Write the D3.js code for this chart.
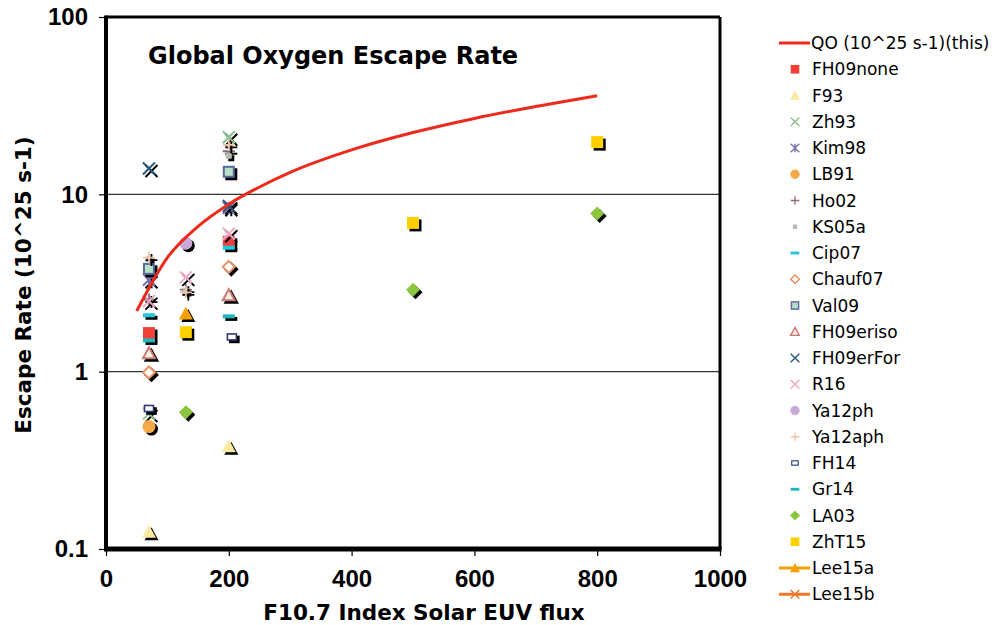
<!DOCTYPE html>
<html><head><meta charset="utf-8">
<script src="https://cdn.jsdelivr.net/npm/d3@7"></script>
<style>
body{margin:0;background:#fff;}
svg{display:block;font-family:"DejaVu Sans",Verdana,sans-serif;}
</style></head>
<body><svg id="c" width="1008" height="625"></svg>
<script>
// ---- data ----
const xTicks = [0, 200, 400, 600, 800, 1000];
const yTicks = [0.1, 1, 10, 100];
const yTickLabels = ["0.1", "1", "10", "100"];
const qoX = [50, 100, 150, 200, 250, 300, 400, 500, 600, 700, 800];
const qoY = [2.2, 4.4, 6.6, 8.8, 11, 13.3, 17.8, 22.3, 26.8, 31.3, 36];
const seriesNames = ["FH09none","F93","Zh93","Kim98","LB91","Ho02","KS05a","Cip07","Chauf07","Val09","FH09eriso","FH09erFor","R16","Ya12ph","Ya12aph","FH14","Gr14","LA03","ZhT15","Lee15a","Lee15b"];
const seriesX = [
  [70, 200],        // FH09none
  [70, 200],        // F93
  [70, 200],        // Zh93
  [70, 200],        // Kim98
  [70],             // LB91
  [70, 130, 200],   // Ho02
  [70, 130, 200],   // KS05a
  [70, 200],        // Cip07
  [70, 200],        // Chauf07
  [70, 200],        // Val09
  [70, 200],        // FH09eriso
  [70, 200],        // FH09erFor
  [70, 130, 200],   // R16
  [130],            // Ya12ph
  [70, 130, 200],   // Ya12aph
  [70, 205],        // FH14
  [70, 200],        // Gr14
  [130, 500, 800],  // LA03
  [130, 500, 800],  // ZhT15
  [130],            // Lee15a
  []                // Lee15b
];
const seriesY = [
  [1.65, 5.4],
  [0.125, 0.38],
  [0.58, 21],
  [3.3, 8.4],
  [0.49],
  [2.55, 2.9, 17.5],
  [4.3, 2.85, 16.5],
  [2.08, 5.0],
  [0.99, 3.9],
  [3.8, 13.4],
  [1.27, 2.7],
  [14, 8.6],
  [2.5, 3.4, 6.0],
  [5.3],
  [4.4, 2.8, 19],
  [0.62, 1.57],
  [1.5, 2.05],
  [0.59, 2.9, 7.8],
  [1.67, 6.9, 19.7],
  [2.13],
  []
];
const seriesShape = ["square","triangle","cross","asterisk","circle","plus","smallsq","dash","diamondOpen","squareBorder","triOpen","cross","cross","circle","plus","rectSmall","dash","diamond","square","triangle","cross"];
const seriesColor = ["#f0403a","#f8eaa0","#8cc08c","#7a70b0","#f5aa48","#8a6878","#b4bab4","#20c8dc","#e89060","#b8e0c4","#c87878","#2a5878","#f0a8c8","#c8aad8","#f0c4a8","#303878","#20b4bc","#8cc63f","#ffd000","#f5a000","#f07828"];
const seriesLine = ["","","","","","","","","","","","","","","","","","","","#f5a000","#f07828"];

// ---- layout ----
const svg = d3.select("#c");
const x = d3.scaleLinear().domain([0, 1000]).range([106, 720]);
const y = d3.scaleLog().domain([0.1, 100]).range([549, 17]);

// gridlines
svg.append("g").selectAll("line").data([1, 10]).join("line")
  .attr("x1", x(0)).attr("x2", x(1000))
  .attr("y1", d => y(d)).attr("y2", d => y(d))
  .attr("stroke", "#333").attr("stroke-width", 1.2);

// axes
const xAxis = d3.axisBottom(x).tickValues(xTicks).tickSize(7).tickFormat(d3.format("d"));
const gx = svg.append("g").attr("transform", `translate(0,${y(0.1)})`).call(xAxis);
gx.select(".domain").remove();
gx.selectAll("line").attr("stroke", "#000").attr("stroke-width", 1.2);
gx.selectAll("text").attr("font-size", 24).attr("font-weight", "bold").attr("fill", "#000").attr("y", 16).attr("dy", "0.9em");

const yAxis = d3.axisLeft(y).tickValues(yTicks).tickSize(7).tickFormat((d, i) => yTickLabels[i]);
const gy = svg.append("g").attr("transform", `translate(${x(0)},0)`).call(yAxis);
gy.select(".domain").remove();
gy.selectAll("line").attr("stroke", "#000").attr("stroke-width", 1.2);
gy.selectAll("text").attr("font-size", 24).attr("font-weight", "bold").attr("fill", "#000").attr("x", -18);

// frame
svg.append("line").attr("x1", x(0)).attr("x2", x(1000)).attr("y1", y(100)).attr("y2", y(100)).attr("stroke", "#000").attr("stroke-width", 3);
svg.append("line").attr("x1", x(1000)).attr("x2", x(1000)).attr("y1", y(100)).attr("y2", y(0.1)).attr("stroke", "#000").attr("stroke-width", 3);
svg.append("line").attr("x1", x(0)).attr("x2", x(0)).attr("y1", y(100) - 1.5).attr("y2", y(0.1) + 2).attr("stroke", "#000").attr("stroke-width", 4);
svg.append("line").attr("x1", x(0) - 2).attr("x2", x(1000) + 1.5).attr("y1", y(0.1)).attr("y2", y(0.1)).attr("stroke", "#000").attr("stroke-width", 5);

// title and labels
svg.append("text").attr("x", 148).attr("y", 64).attr("font-size", 24).attr("font-weight", "bold").text("Global Oxygen Escape Rate");
svg.append("text").attr("transform", "translate(31,285) rotate(-90)").attr("text-anchor", "middle")
  .attr("font-size", 21.5).attr("font-weight", "bold").text("Escape Rate (10^25 s-1)");
svg.append("text").attr("x", 424).attr("y", 620).attr("text-anchor", "middle")
  .attr("font-size", 21.5).attr("font-weight", "bold").text("F10.7 Index Solar EUV flux");

// marker drawing
function drawMarker(g, shape, color, shadow) {
  const c = shadow ? "#000" : color;
  const s = 6;
  switch (shape) {
    case "square":
      g.append("rect").attr("x", -s).attr("y", -s).attr("width", 2*s).attr("height", 2*s).attr("fill", c); break;
    case "squareBorder":
      g.append("rect").attr("x", -s+1).attr("y", -s+1).attr("width", 2*s-2).attr("height", 2*s-2)
        .attr("fill", c).attr("stroke", shadow ? "#000" : "#5868a0").attr("stroke-width", 2); break;
    case "triangle":
      g.append("path").attr("d", `M0,${-s-1}L${s+1},${s}L${-s-1},${s}Z`).attr("fill", c); break;
    case "triOpen":
      g.append("path").attr("d", `M0,${-s}L${s},${s-1}L${-s},${s-1}Z`).attr("fill", shadow ? "#000" : "#f8f0e0")
        .attr("stroke", c).attr("stroke-width", 2); break;
    case "circle":
      g.append("circle").attr("r", s+0.5).attr("fill", c); break;
    case "diamond":
      g.append("path").attr("d", `M0,${-s-1}L${s+1},0L0,${s+1}L${-s-1},0Z`).attr("fill", c); break;
    case "diamondOpen":
      g.append("path").attr("d", `M0,${-s}L${s},0L0,${s}L${-s},0Z`).attr("fill", shadow ? "#000" : "#fff")
        .attr("stroke", c).attr("stroke-width", 2); break;
    case "cross":
      g.append("path").attr("d", `M${-s},${-s}L${s},${s}M${s},${-s}L${-s},${s}`).attr("stroke", c).attr("stroke-width", 2); break;
    case "asterisk":
      g.append("path").attr("d", `M${-s},${-s}L${s},${s}M${s},${-s}L${-s},${s}M0,${-s}L0,${s}`).attr("stroke", c).attr("stroke-width", 2); break;
    case "plus":
      g.append("path").attr("d", `M${-s},0L${s},0M0,${-s}L0,${s}`).attr("stroke", c).attr("stroke-width", 1.8); break;
    case "smallsq":
      g.append("rect").attr("x", -3).attr("y", -3).attr("width", 6).attr("height", 6).attr("fill", c); break;
    case "dash":
      g.append("rect").attr("x", -s).attr("y", -2).attr("width", 2*s).attr("height", 4).attr("fill", c); break;
    case "rectSmall":
      g.append("rect").attr("x", -4.5).attr("y", -3).attr("width", 9).attr("height", 6).attr("fill", shadow ? "#000" : "#fff")
        .attr("stroke", c).attr("stroke-width", 1.6); break;
  }
}

// data points with black drop shadow
const pts = svg.append("g");
seriesNames.forEach((name, i) => {
  seriesX[i].forEach((xv, j) => {
    const px = x(xv), py = y(seriesY[i][j]);
    drawMarker(pts.append("g").attr("transform", `translate(${px + 2.5},${py + 2.5})`), seriesShape[i], seriesColor[i], true);
    drawMarker(pts.append("g").attr("transform", `translate(${px},${py})`), seriesShape[i], seriesColor[i], false);
  });
});

// QO curve
svg.append("path").datum(qoX.map((d, i) => [d, qoY[i]]))
  .attr("d", d3.line().x(d => x(d[0])).y(d => y(d[1])).curve(d3.curveMonotoneX))
  .attr("fill", "none").attr("stroke", "#ee2a1c").attr("stroke-width", 3);

// legend
const leg = svg.append("g");
const legY0 = 43, legDy = 26.25;
const lg0 = leg.append("g").attr("transform", `translate(0,${legY0})`);
lg0.append("line").attr("x1", 779).attr("x2", 810).attr("y1", 0).attr("y2", 0).attr("stroke", "#ee2a1c").attr("stroke-width", 3);
lg0.append("text").attr("x", 811).attr("y", 0).attr("dy", "0.36em").attr("font-size", 17).text("QO (10^25 s-1)(this)");
seriesNames.forEach((name, i) => {
  const g = leg.append("g").attr("transform", `translate(0,${legY0 + legDy * (i + 1)})`);
  if (seriesLine[i]) {
    g.append("line").attr("x1", 779).attr("x2", 810).attr("y1", 0).attr("y2", 0).attr("stroke", seriesLine[i]).attr("stroke-width", 3);
  }
  const m = g.append("g").attr("transform", `translate(795,0) scale(0.72)`);
  drawMarker(m, seriesShape[i], seriesColor[i], false);
  g.append("text").attr("x", 812).attr("y", 0).attr("dy", "0.36em").attr("font-size", 17).text(name);
});
</script></body></html>
